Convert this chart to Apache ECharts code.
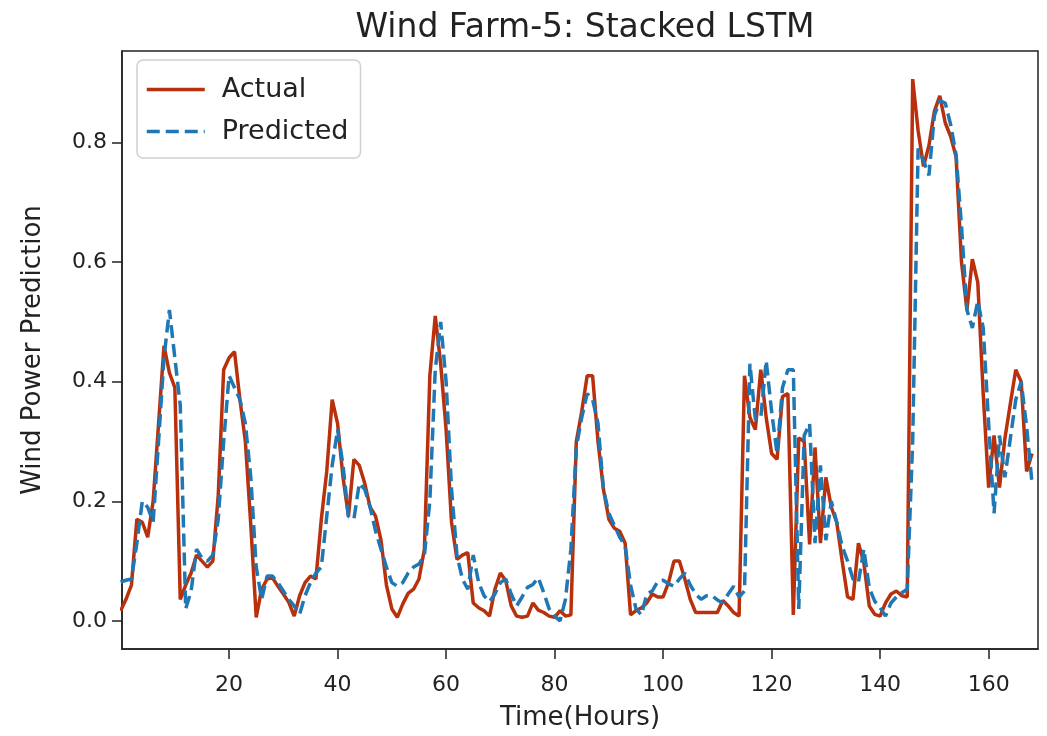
<!DOCTYPE html>
<html>
<head>
<meta charset="utf-8">
<script src="https://cdn.jsdelivr.net/npm/echarts@6/dist/echarts.min.js"></script>
<style>
  html, body { margin: 0; padding: 0; background: #fff; }
  #chart { width: 1047px; height: 736px; }
</style>
</head>
<body>
<div id="chart"></div>
<script>
// hour index, 0..168
const hours = Array.from({length: 169}, (_, i) => i);

const actual = [
  0.017, 0.036, 0.06, 0.17, 0.165, 0.14, 0.2, 0.33, 0.46, 0.415,
  0.39, 0.036, 0.06, 0.08, 0.11, 0.10, 0.09, 0.10, 0.21, 0.42,
  0.44, 0.45, 0.37, 0.30, 0.16, 0.006, 0.053, 0.07, 0.072, 0.058,
  0.045, 0.031, 0.008, 0.042, 0.064, 0.075, 0.07, 0.17, 0.25, 0.37,
  0.33, 0.24, 0.175, 0.27, 0.26, 0.23, 0.19, 0.175, 0.135, 0.06,
  0.02, 0.006, 0.028, 0.046, 0.053, 0.07, 0.12, 0.41, 0.51, 0.43,
  0.32, 0.165, 0.103, 0.11, 0.114, 0.03, 0.022, 0.017, 0.008, 0.053,
  0.08, 0.067, 0.025, 0.008, 0.006, 0.008, 0.03, 0.018, 0.014, 0.008,
  0.006, 0.017, 0.008, 0.01, 0.30, 0.35, 0.41, 0.41, 0.30, 0.22,
  0.17, 0.155, 0.15, 0.13, 0.01, 0.017, 0.022, 0.03, 0.045, 0.04,
  0.04, 0.064, 0.10, 0.10, 0.07, 0.036, 0.014, 0.014, 0.014, 0.014,
  0.014, 0.034, 0.025, 0.014, 0.008, 0.41, 0.34, 0.32, 0.42, 0.34,
  0.28, 0.27, 0.375, 0.38, 0.01, 0.306, 0.30, 0.128, 0.29, 0.13,
  0.24, 0.19, 0.165, 0.10, 0.04, 0.036, 0.13, 0.097, 0.025, 0.011,
  0.008, 0.03, 0.045, 0.05, 0.042, 0.04, 0.906, 0.82, 0.76, 0.795,
  0.852, 0.878, 0.833, 0.81, 0.776, 0.6, 0.52, 0.605, 0.566, 0.38,
  0.223, 0.31, 0.223, 0.305, 0.363, 0.42, 0.40, 0.25, 0.28
];

const predicted = [
  0.065, 0.068, 0.07, 0.13, 0.2, 0.19, 0.165, 0.30, 0.44, 0.52,
  0.44, 0.36, 0.02, 0.05, 0.12, 0.105, 0.10, 0.11, 0.17, 0.30,
  0.41, 0.39, 0.37, 0.33, 0.24, 0.09, 0.036, 0.075, 0.075, 0.064,
  0.05, 0.036, 0.025, 0.011, 0.042, 0.064, 0.08, 0.09, 0.175, 0.26,
  0.32, 0.26, 0.175, 0.17, 0.23, 0.22, 0.19, 0.15, 0.12, 0.09,
  0.064, 0.058, 0.064, 0.08, 0.09, 0.095, 0.11, 0.2, 0.42, 0.50,
  0.40, 0.22, 0.11, 0.07, 0.053, 0.11, 0.064, 0.042, 0.032, 0.045,
  0.064, 0.07, 0.045, 0.025, 0.04, 0.056, 0.061, 0.072, 0.047, 0.02,
  0.008, 0.0, 0.036, 0.12, 0.29, 0.34, 0.38, 0.37, 0.33, 0.22,
  0.18, 0.16, 0.14, 0.125, 0.06, 0.02, 0.01, 0.045, 0.05, 0.066,
  0.068, 0.062, 0.058, 0.07, 0.08, 0.06, 0.045, 0.036, 0.042, 0.042,
  0.035, 0.03, 0.045, 0.058, 0.04, 0.05, 0.43, 0.337, 0.34, 0.435,
  0.35, 0.28, 0.39, 0.42, 0.42, 0.02, 0.31, 0.33, 0.13, 0.26,
  0.135, 0.2, 0.165, 0.125, 0.10, 0.07, 0.065, 0.12, 0.055, 0.033,
  0.022, 0.008, 0.03, 0.04, 0.047, 0.053, 0.3, 0.79, 0.77, 0.745,
  0.845, 0.87, 0.866, 0.83, 0.78, 0.66, 0.52, 0.49, 0.535, 0.49,
  0.33, 0.18, 0.31, 0.24, 0.305, 0.37, 0.40, 0.325, 0.23
];

const xTicks = [20, 40, 60, 80, 100, 120, 140, 160];
const yTicks = [0, 0.2, 0.4, 0.6, 0.8];

const FONT = 'DejaVu Sans';
const chart = echarts.init(document.getElementById('chart'));

chart.setOption({
  animation: false,
  title: {
    text: 'Wind Farm-5: Stacked LSTM',
    left: 580,
    top: 7,
    textAlign: 'center',
    textStyle: {fontFamily: FONT, fontSize: 33, fontWeight: 'normal', color: '#222'}
  },
  legend: {
    orient: 'vertical',
    left: 137,
    top: 60,
    itemWidth: 58,
    itemHeight: 14,
    itemGap: 15,
    padding: [16, 12, 13, 8],
    borderColor: '#d0d0d0',
    borderWidth: 1.5,
    borderRadius: 6,
    backgroundColor: '#fff',
    itemStyle: {opacity: 0},
    lineStyle: {width: 3.5},
    textStyle: {fontFamily: FONT, fontSize: 27, color: '#222', padding: [0, 0, 0, 12]},
    data: ['Actual', 'Predicted']
  },
  grid: {
    left: 122,
    right: 9,
    top: 51,
    bottom: 86,
    show: true,
    borderColor: '#222',
    borderWidth: 1.5
  },
  xAxis: {
    type: 'value',
    min: 0.26,
    max: 169.1,
    name: 'Time(Hours)',
    nameLocation: 'middle',
    nameGap: 56,
    nameTextStyle: {fontFamily: FONT, fontSize: 26, color: '#222'},
    axisLine: {onZero: false, lineStyle: {color: '#222', width: 1.5}},
    axisTick: {customValues: xTicks, length: 10, lineStyle: {color: '#222', width: 1.5}},
    axisLabel: {customValues: xTicks, margin: 25, fontFamily: FONT, fontSize: 22, color: '#222'},
    splitLine: {show: false}
  },
  yAxis: {
    type: 'value',
    min: -0.047,
    max: 0.953,
    name: 'Wind Power Prediction',
    nameLocation: 'middle',
    nameGap: 76,
    nameTextStyle: {fontFamily: FONT, fontSize: 26, color: '#222'},
    axisLine: {show: true, lineStyle: {color: '#222', width: 1.5}},
    axisTick: {show: true, customValues: yTicks, length: 10, lineStyle: {color: '#222', width: 1.5}},
    axisLabel: {
      customValues: yTicks, margin: 15, fontFamily: FONT, fontSize: 22, color: '#222',
      formatter: v => v.toFixed(1)
    },
    splitLine: {show: false}
  },
  series: [
    {
      name: 'Actual',
      type: 'line',
      showSymbol: false,
      symbol: 'none',
      color: '#b8300c',
      lineStyle: {color: '#b8300c', width: 3.5},
      data: hours.map((h, i) => [h, actual[i]])
    },
    {
      name: 'Predicted',
      type: 'line',
      showSymbol: false,
      symbol: 'none',
      color: '#1f77b4',
      lineStyle: {color: '#1f77b4', width: 3.5, type: [13, 6]},
      data: hours.map((h, i) => [h, predicted[i]])
    }
  ]
});
</script>
</body>
</html>
